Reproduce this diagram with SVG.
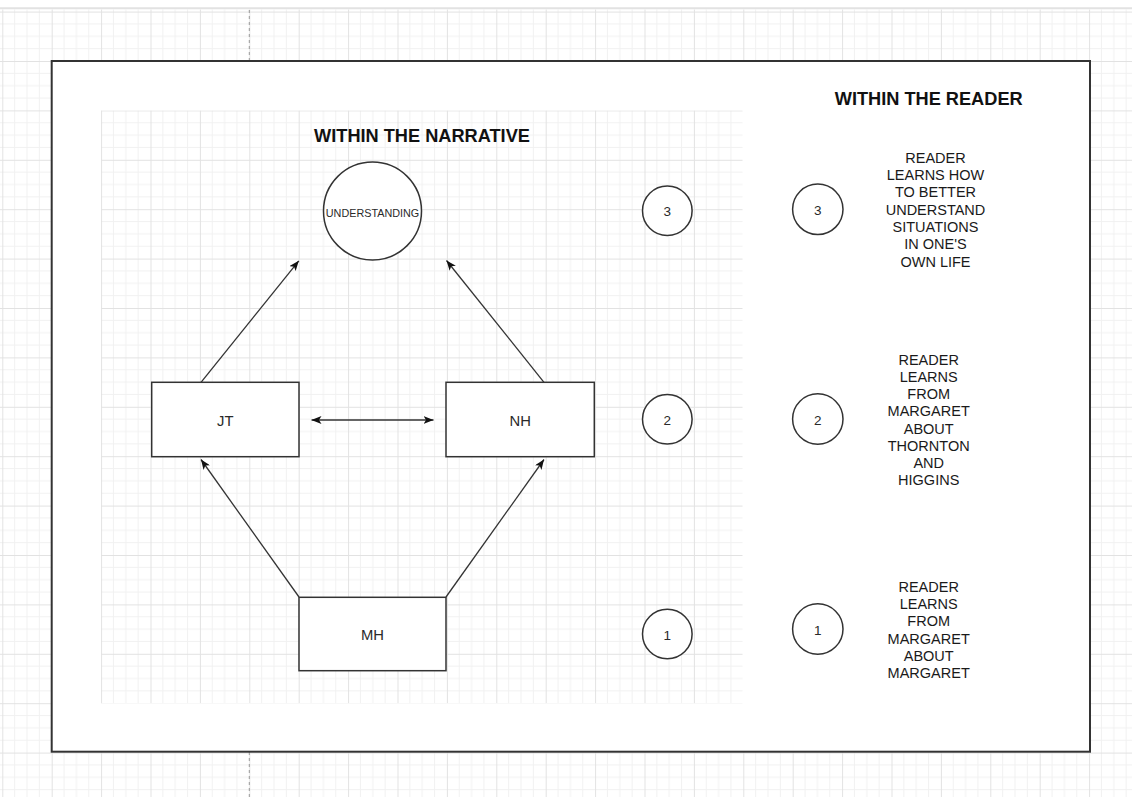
<svg xmlns="http://www.w3.org/2000/svg" width="1132" height="797" viewBox="0 0 1132 797">
  <style>
    .node { fill: #ffffff; stroke: #333333; stroke-width: 1.5; }
    .lbl { font-family: "Liberation Sans", Arial, sans-serif; font-size: 14.8px; fill: #2a2a2a; text-anchor: middle; }
    .num { font-family: "Liberation Sans", Arial, sans-serif; font-size: 13.5px; fill: #2a2a2a; text-anchor: middle; }
    .small { font-family: "Liberation Sans", Arial, sans-serif; font-size: 10.8px; fill: #2a2a2a; text-anchor: middle; }
    .head { font-family: "Liberation Sans", Arial, sans-serif; font-size: 18.2px; font-weight: bold; fill: #111111; text-anchor: middle; }
    .desc { font-family: "Liberation Sans", Arial, sans-serif; font-size: 14.5px; fill: #1a1a1a; text-anchor: middle; }
    .conn { fill: none; stroke: #333333; stroke-width: 1.3; }
  </style>
  <defs>
    <pattern id="grid" patternUnits="userSpaceOnUse" x="51.7" y="61" width="49.4" height="49.4">
      <path d="M12.35,0 V49.4 M24.7,0 V49.4 M37.05,0 V49.4 M0,12.35 H49.4 M0,24.7 H49.4 M0,37.05 H49.4" stroke="#f1f1f1" stroke-width="1" fill="none"/>
      <path d="M0.5,0 V49.4 M0,0.5 H49.4" stroke="#e2e2e2" stroke-width="1" fill="none"/>
    </pattern>
    <marker id="arrow" viewBox="0 0 10 8" refX="10" refY="4" markerWidth="10" markerHeight="8" markerUnits="userSpaceOnUse" orient="auto-start-reverse">
      <path d="M0,0 L10,4 L0,8 L2.5,4 z" fill="#111111"/>
    </marker>
  </defs>

  <!-- page background -->
  <rect x="0" y="0" width="1132" height="797" fill="#ffffff"/>
  <rect x="0" y="9.5" width="1132" height="788" fill="url(#grid)"/>
  <line x1="0" y1="8.3" x2="1132" y2="8.3" stroke="#e2e2e2" stroke-width="2"/>
  <line x1="249.3" y1="10" x2="249.3" y2="61" stroke="#9a9a9a" stroke-width="1" stroke-dasharray="3,3"/>
  <line x1="249.3" y1="752" x2="249.3" y2="797" stroke="#9a9a9a" stroke-width="1" stroke-dasharray="3,3"/>

  <!-- outer frame -->
  <rect id="frame" x="51.7" y="61" width="1038.3" height="690.7" fill="#ffffff" stroke="#333333" stroke-width="2"/>

  <!-- inner canvas -->
  <rect id="canvas" x="101" y="110.5" width="641.5" height="592.8" fill="url(#grid)"/>

  <!-- headings -->
  <text class="head" x="422" y="141.7">WITHIN THE NARRATIVE</text>
  <text class="head" x="928.7" y="105">WITHIN THE READER</text>

  <!-- connectors -->
  <g id="connectors">
    <path class="conn" d="M299,597 L201,459.5" marker-end="url(#arrow)"/>
    <path class="conn" d="M446,597 L544,459.5" marker-end="url(#arrow)"/>
    <path class="conn" d="M201,382.3 L298.8,260.8" marker-end="url(#arrow)"/>
    <path class="conn" d="M544,382.3 L446.5,260.5" marker-end="url(#arrow)"/>
    <path class="conn" d="M311.5,420 L433.5,420" marker-start="url(#arrow)" marker-end="url(#arrow)"/>
  </g>

  <!-- nodes -->
  <g id="understanding">
    <circle class="node" cx="372.5" cy="211" r="49"/>
    <text class="small" x="372.5" y="216.5">UNDERSTANDING</text>
  </g>
  <g id="jt">
    <rect class="node" x="151.7" y="382.3" width="147.3" height="74.4"/>
    <text class="lbl" x="225.3" y="425.5">JT</text>
  </g>
  <g id="nh">
    <rect class="node" x="446" y="382.3" width="148.3" height="74.4"/>
    <text class="lbl" x="520.2" y="425.5">NH</text>
  </g>
  <g id="mh">
    <rect class="node" x="299" y="597.3" width="147" height="73.4"/>
    <text class="lbl" x="372.5" y="639.8">MH</text>
  </g>

  <!-- numbered circles -->
  <g id="n3-left">
    <circle class="node" cx="667.3" cy="210.7" r="24.8"/>
    <text class="num" x="667.3" y="216">3</text>
  </g>
  <g id="n3-right">
    <circle class="node" cx="817.8" cy="209.3" r="25.2"/>
    <text class="num" x="817.8" y="214.8">3</text>
  </g>
  <g id="n2-left">
    <circle class="node" cx="667.3" cy="419.3" r="24.8"/>
    <text class="num" x="667.3" y="424.8">2</text>
  </g>
  <g id="n2-right">
    <circle class="node" cx="817.8" cy="419" r="25.2"/>
    <text class="num" x="817.8" y="424.5">2</text>
  </g>
  <g id="n1-left">
    <circle class="node" cx="667.3" cy="634" r="24.8"/>
    <text class="num" x="667.3" y="639.5">1</text>
  </g>
  <g id="n1-right">
    <circle class="node" cx="817.8" cy="629" r="25.2"/>
    <text class="num" x="817.8" y="634.5">1</text>
  </g>

  <!-- reader descriptions -->
  <g id="desc3">
    <text class="desc" x="935.5" y="162.7">READER</text>
    <text class="desc" x="935.5" y="180">LEARNS HOW</text>
    <text class="desc" x="935.5" y="197.3">TO BETTER</text>
    <text class="desc" x="935.5" y="214.6">UNDERSTAND</text>
    <text class="desc" x="935.5" y="231.9">SITUATIONS</text>
    <text class="desc" x="935.5" y="249.2">IN ONE'S</text>
    <text class="desc" x="935.5" y="266.5">OWN LIFE</text>
  </g>
  <g id="desc2">
    <text class="desc" x="928.7" y="364.7">READER</text>
    <text class="desc" x="928.7" y="381.9">LEARNS</text>
    <text class="desc" x="928.7" y="399.1">FROM</text>
    <text class="desc" x="928.7" y="416.3">MARGARET</text>
    <text class="desc" x="928.7" y="433.5">ABOUT</text>
    <text class="desc" x="928.7" y="450.7">THORNTON</text>
    <text class="desc" x="928.7" y="467.9">AND</text>
    <text class="desc" x="928.7" y="485.1">HIGGINS</text>
  </g>
  <g id="desc1">
    <text class="desc" x="928.7" y="591.7">READER</text>
    <text class="desc" x="928.7" y="609">LEARNS</text>
    <text class="desc" x="928.7" y="626.3">FROM</text>
    <text class="desc" x="928.7" y="643.6">MARGARET</text>
    <text class="desc" x="928.7" y="660.9">ABOUT</text>
    <text class="desc" x="928.7" y="678.2">MARGARET</text>
  </g>
</svg>
